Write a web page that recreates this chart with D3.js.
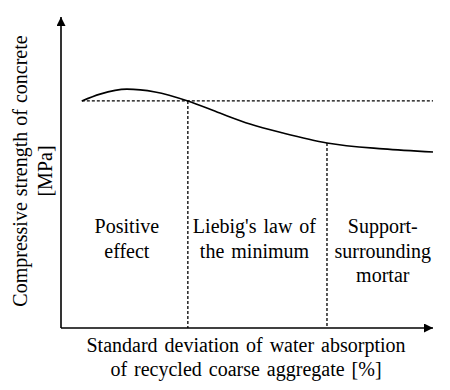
<!DOCTYPE html>
<html><head><meta charset="utf-8">
<script src="https://cdn.jsdelivr.net/npm/d3@7"></script>
<style>html,body{margin:0;padding:0;background:#fff;}</style>
</head><body>
<script>
// Conceptual curve (arbitrary units)
const curveX = [0.56, 1.05, 1.77, 2.53, 3.41, 4.27, 5.08, 5.97, 7.15, 8.66, 10];
const curveY = [7.30, 7.52, 7.68, 7.59, 7.30, 6.91, 6.56, 6.27, 5.95, 5.76, 5.66];
const refLevel = 7.30;
const boundaries = [3.41, 7.15];
const regionLabels = [["Positive", "effect"], ["Liebig's law of", "the minimum"], ["Support-", "surrounding", "mortar"]];
const regionCenters = [1.77, 5.20, 8.65];
const xLabel = ["Standard deviation of water absorption", "of recycled coarse aggregate [%]"];
const yLabel = ["Compressive strength of concrete", "[MPa]"];

const W = 450, H = 390;
const svg = d3.select("body").append("svg").attr("width", W).attr("height", H);
const x = d3.scaleLinear().domain([0, 10]).range([61, 433]);
const y = d3.scaleLinear().domain([0, 10]).range([328, 17]);
const FS = 20;
const FF = "Liberation Serif";

const defs = svg.append("defs");
defs.append("marker").attr("id", "arr").attr("viewBox", "0 0 10 10").attr("refX", 10).attr("refY", 5)
  .attr("markerWidth", 11).attr("markerHeight", 9).attr("markerUnits", "userSpaceOnUse").attr("orient", "auto")
  .append("path").attr("d", "M0,0L10,5L0,10Z").attr("fill", "#000");

// axes
svg.append("line").attr("x1", x(0)).attr("y1", y(0)).attr("x2", x(10)).attr("y2", y(0))
  .attr("stroke", "#000").attr("stroke-width", 1.6).attr("marker-end", "url(#arr)");
svg.append("line").attr("x1", x(0)).attr("y1", y(0)).attr("x2", x(0)).attr("y2", y(10))
  .attr("stroke", "#000").attr("stroke-width", 1.6).attr("marker-end", "url(#arr)");

// dashed reference line
svg.append("line").attr("x1", x(curveX[0])).attr("x2", x(10)).attr("y1", y(refLevel)).attr("y2", y(refLevel))
  .attr("stroke", "#000").attr("stroke-width", 1.3).attr("stroke-dasharray", "3,2");

// vertical dashed boundaries
boundaries.forEach(b => {
  const i = curveX.indexOf(b);
  svg.append("line").attr("x1", x(b)).attr("x2", x(b)).attr("y1", y(curveY[i])).attr("y2", y(0))
    .attr("stroke", "#000").attr("stroke-width", 1.3).attr("stroke-dasharray", "3,2");
});

// curve
const pts = curveX.map((d, i) => [d, curveY[i]]);
svg.append("path").datum(pts)
  .attr("d", d3.line().x(d => x(d[0])).y(d => y(d[1])).curve(d3.curveMonotoneX))
  .attr("fill", "none").attr("stroke", "#000").attr("stroke-width", 1.6);

// region labels
regionLabels.forEach((lines, i) => {
  lines.forEach((t, j) => {
    svg.append("text").attr("x", x(regionCenters[i])).attr("y", 233 + j * 24.5)
      .attr("text-anchor", "middle").attr("font-family", FF).attr("font-size", FS)
      .attr("word-spacing", 2).text(t);
  });
});

// x label
xLabel.forEach((t, j) => {
  svg.append("text").attr("x", 246).attr("y", 352 + j * 23.5).attr("text-anchor", "middle")
    .attr("font-family", FF).attr("font-size", FS).attr("word-spacing", 2).text(t);
});
// y label
yLabel.forEach((t, j) => {
  svg.append("text").attr("transform", `translate(${27 + j * 25},171) rotate(-90)`).attr("text-anchor", "middle")
    .attr("font-family", FF).attr("font-size", FS).attr("word-spacing", 1).text(t);
});
</script>
</body></html>
